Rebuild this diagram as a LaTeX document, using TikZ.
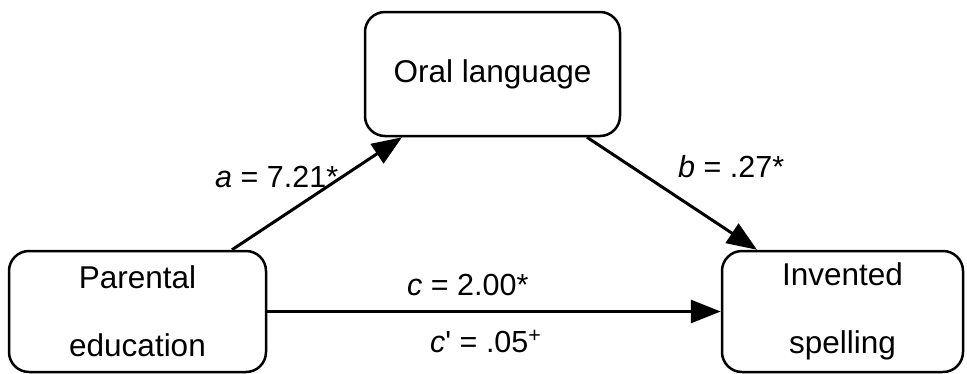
\documentclass[tikz,border=0pt]{standalone}
\usepackage{fontspec}
\setmainfont{Liberation Sans}
\usepackage{tikz}
\usetikzlibrary{arrows.meta,positioning,calc}
\tikzset{
  var/.style={draw,line width=2.5pt,rounded corners=20pt,align=center,
              minimum width=257pt,minimum height=121pt,inner sep=0pt,
              font=\fontsize{31.5}{68}\selectfont},
  lbl/.style={font=\fontsize{30.5}{36}\selectfont,inner sep=0pt,anchor=base west},
  fl/.style={-{Triangle[length=30pt,width=23pt]},line width=3pt},
}
\begin{document}
\begin{tikzpicture}[x=1pt,y=-1pt]
\useasboundingbox (0,0) rectangle (967,373);
\node[var, minimum width=255pt, minimum height=124pt] (oral) at (492.5,74) {Oral language};
\node[var] (parent) at (137.5,311.5) {Parental\\education};
\node[var, minimum width=241pt] (spell) at (842.5,311.5) {Invented\\spelling};
\draw[fl] ([xshift=94.5pt]parent.north) -- ([xshift=-90.5pt]oral.south);
\draw[fl] ([xshift=94.5pt]oral.south) -- ([xshift=-85.5pt]spell.north);
\draw[fl] (parent.east) -- (spell.west);
\node[lbl] (la) at (215,187) {\textit{a} = 7.21*};
\node[lbl] (lb) at (678,177) {\textit{b} = .27*};
\node[lbl] (lc) at (407,295) {\textit{c} = 2.00*};
\node[lbl] (lcp) at (430,352) {\textit{c}\textquotesingle{} = .05\textsuperscript{+}};
\end{tikzpicture}
\end{document}
